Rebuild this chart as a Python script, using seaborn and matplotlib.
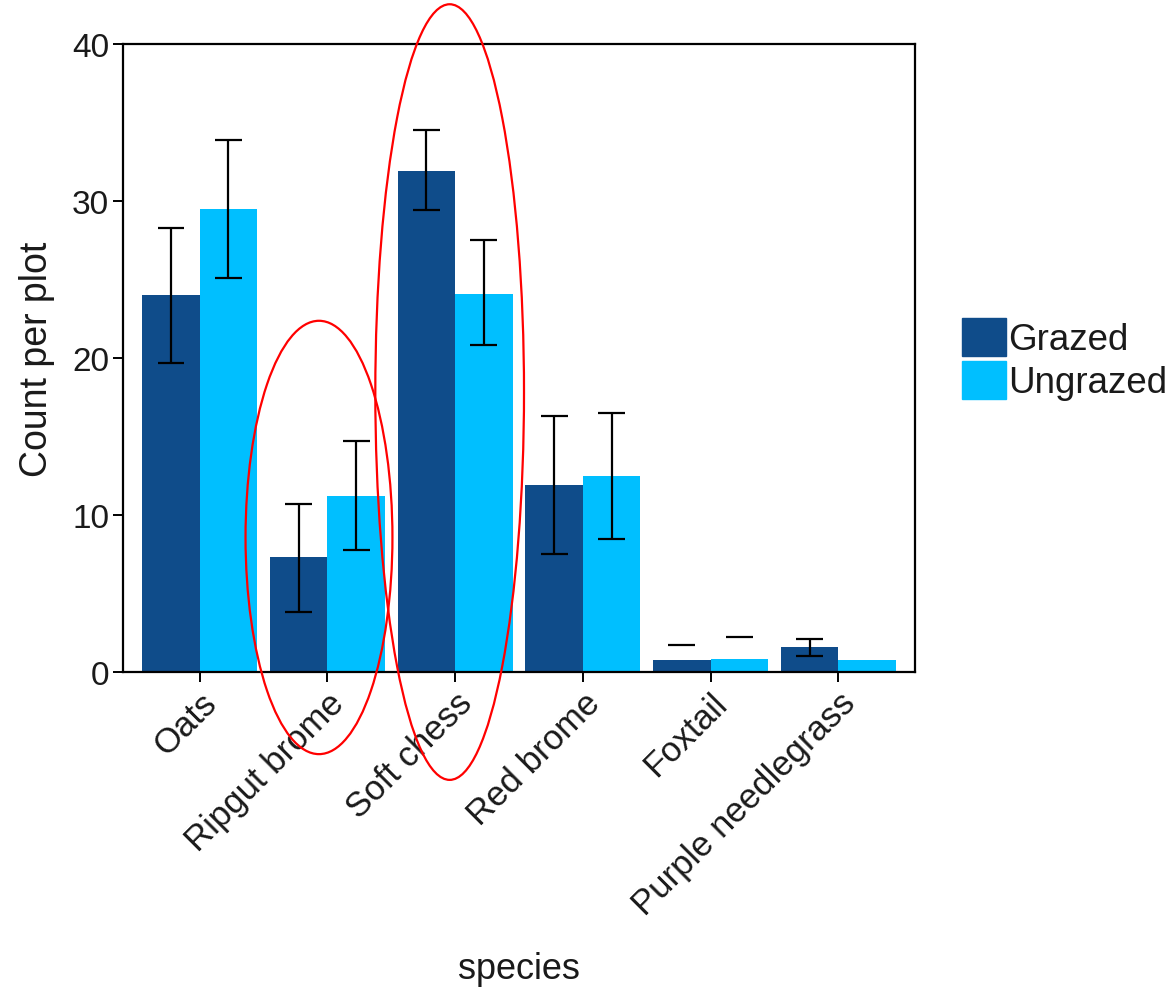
import numpy as np
import pandas as pd
import matplotlib
matplotlib.use("Agg")
import matplotlib.pyplot as plt
import seaborn as sns
from matplotlib.patches import Ellipse

# === DATA ===
species = ["Oats", "Ripgut brome", "Soft chess", "Red brome", "Foxtail", "Purple needlegrass"]
treatments = ["Grazed", "Ungrazed"]

grazed_mean = [24.0, 7.3, 31.9, 11.9, 0.75, 1.6]
grazed_lo = [19.7, 3.8, 29.4, 7.5, np.nan, 1.05]
grazed_hi = [28.3, 10.7, 34.5, 16.3, 1.7, 2.1]

ungrazed_mean = [29.5, 11.2, 24.1, 12.5, 0.85, 0.75]
ungrazed_lo = [25.1, 7.8, 20.8, 8.5, np.nan, np.nan]
ungrazed_hi = [33.9, 14.7, 27.5, 16.5, 2.2, np.nan]

palette = {"Grazed": "#0F4C8A", "Ungrazed": "#00BFFF"}

df = pd.DataFrame({
    "species": species * 2,
    "treatment": ["Grazed"] * len(species) + ["Ungrazed"] * len(species),
    "count": grazed_mean + ungrazed_mean,
})
err_lo = {"Grazed": grazed_lo, "Ungrazed": ungrazed_lo}
err_hi = {"Grazed": grazed_hi, "Ungrazed": ungrazed_hi}

# === STYLE ===
sns.set_theme(style="ticks")
plt.rcParams["font.family"] = ["Liberation Sans", "DejaVu Sans"]

fig = plt.figure(figsize=(11.74, 9.95), dpi=100)
ax = fig.add_axes([0.1048, 0.3236, 0.6746, 0.6312])

sns.barplot(data=df, x="species", y="count", hue="treatment", order=species,
            hue_order=treatments, palette=palette, width=0.9, saturation=1,
            errorbar=None, linewidth=0, ax=ax, legend=False)

# === ERROR BARS ===
cap_half = 0.105
for container, trt in zip(ax.containers, treatments):
    for bar, lo, hi in zip(container, err_lo[trt], err_hi[trt]):
        xc = bar.get_x() + bar.get_width() / 2
        if not np.isnan(lo) and not np.isnan(hi):
            ax.vlines(xc, lo, hi, color="black", lw=1.6, zorder=4)
        for v in (lo, hi):
            if not np.isnan(v):
                ax.hlines(v, xc - cap_half, xc + cap_half, color="black", lw=1.6, zorder=4)

# === AXES ===
ax.set_xlim(-0.6, len(species) - 0.4)
ax.set_ylim(0, 40)
ax.set_yticks([0, 10, 20, 30, 40])
for s in ax.spines.values():
    s.set_visible(True)
    s.set_color("black")
    s.set_linewidth(1.6)
ax.tick_params(axis="both", direction="out", length=7, width=1.4, color="black",
               labelcolor="#1a1a1a")
ax.tick_params(axis="y", labelsize=24, pad=3)
ax.tick_params(axis="x", labelsize=25, pad=3)
for lab in ax.get_xticklabels():
    lab.set_rotation(45)
    lab.set_ha("right")
    lab.set_va("top")
    lab.set_rotation_mode("anchor")

ax.set_xlabel("species", fontsize=26, color="#1a1a1a")
ax.xaxis.set_label_coords(0.5, -0.445)
ax.set_ylabel("Count per plot", fontsize=27, labelpad=12, color="#1a1a1a")

# === ANNOTATION ELLIPSES ===
ax.add_patch(Ellipse((0.934, 8.57), 1.15, 27.6, fill=False, edgecolor="red",
                     lw=1.6, clip_on=False, zorder=5))
ax.add_patch(Ellipse((1.957, 17.83), 1.164, 49.4, fill=False, edgecolor="red",
                     lw=1.6, clip_on=False, zorder=5))

# === LEGEND ===
handles = [plt.Rectangle((0, 0), 1, 1, color=palette[t]) for t in treatments]
fig.legend(handles, treatments, loc="center left", bbox_to_anchor=(0.804, 0.638),
           frameon=False, fontsize=26.5, handlelength=1.2, handleheight=1.2,
           handletextpad=0.05, labelspacing=0.1, borderpad=0, labelcolor="#1a1a1a")

fig.savefig("out.png", dpi=100)
